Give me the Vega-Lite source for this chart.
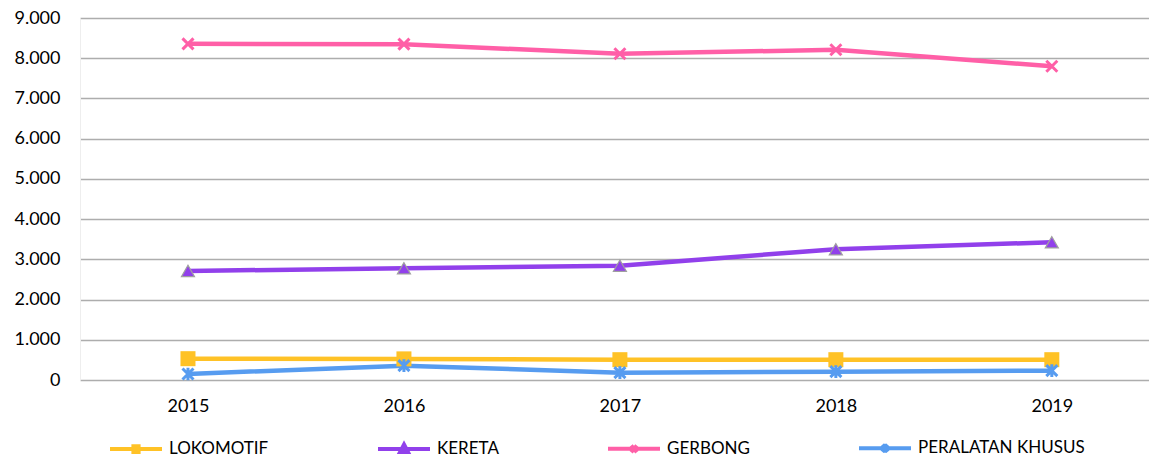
{
  "$schema": "https://vega.github.io/schema/vega-lite/v6.json",
  "width": 1069,
  "height": 362,
  "autosize": {"type": "none"},
  "padding": {"left": 80, "top": 18, "right": 0, "bottom": 77},
  "background": "white",
  "config": {"view": {"stroke": null}, "font": "Lato"},
  "data": {
    "values": [
      {"year": 2015, "series": "LOKOMOTIF", "value": 530},
      {"year": 2016, "series": "LOKOMOTIF", "value": 525},
      {"year": 2017, "series": "LOKOMOTIF", "value": 505},
      {"year": 2018, "series": "LOKOMOTIF", "value": 505},
      {"year": 2019, "series": "LOKOMOTIF", "value": 505},
      {"year": 2015, "series": "KERETA", "value": 2711},
      {"year": 2016, "series": "KERETA", "value": 2778},
      {"year": 2017, "series": "KERETA", "value": 2843},
      {"year": 2018, "series": "KERETA", "value": 3251},
      {"year": 2019, "series": "KERETA", "value": 3425},
      {"year": 2015, "series": "GERBONG", "value": 8358},
      {"year": 2016, "series": "GERBONG", "value": 8350},
      {"year": 2017, "series": "GERBONG", "value": 8110},
      {"year": 2018, "series": "GERBONG", "value": 8210},
      {"year": 2019, "series": "GERBONG", "value": 7800},
      {"year": 2015, "series": "PERALATAN KHUSUS", "value": 150},
      {"year": 2016, "series": "PERALATAN KHUSUS", "value": 357},
      {"year": 2017, "series": "PERALATAN KHUSUS", "value": 183},
      {"year": 2018, "series": "PERALATAN KHUSUS", "value": 208},
      {"year": 2019, "series": "PERALATAN KHUSUS", "value": 233}
    ]
  },
  "encoding": {
    "x": {
      "field": "year",
      "type": "quantitative",
      "scale": {"domain": [2014.5, 2019.45], "nice": false, "zero": false},
      "axis": {
        "values": [2015, 2016, 2017, 2018, 2019],
        "format": "d",
        "grid": false,
        "ticks": false,
        "domain": false,
        "labelFontSize": 18,
        "labelColor": "#000000",
        "labelPadding": 17,
        "title": null
      }
    },
    "y": {
      "field": "value",
      "type": "quantitative",
      "scale": {"domain": [0, 9000], "nice": false},
      "axis": {
        "values": [0, 1000, 2000, 3000, 4000, 5000, 6000, 7000, 8000, 9000],
        "labelExpr": "replace(format(datum.value, ','), ',', '.')",
        "grid": true,
        "gridColor": "#ADADAD",
        "gridWidth": 1.3,
        "ticks": false,
        "domain": true,
        "domainColor": "#EEEEEE",
        "labelFontSize": 18,
        "labelColor": "#000000",
        "labelPadding": 20,
        "title": null
      }
    }
  },
  "layer": [
    {
      "mark": {"type": "line", "strokeWidth": 4.5, "clip": false},
      "encoding": {
        "color": {
          "field": "series",
          "type": "nominal",
          "sort": null,
          "scale": {
            "domain": ["LOKOMOTIF", "KERETA", "GERBONG", "PERALATAN KHUSUS"],
            "range": ["#FFC226", "#9140EB", "#FF5FA7", "#579CF0"]
          },
          "legend": {
            "orient": "none",
            "legendX": 28,
            "legendY": 402,
            "direction": "horizontal",
            "title": null,
            "labelFontSize": 17,
            "labelColor": "#000000",
            "labelOffset": 5,
            "labelLimit": 400,
            "columnPadding": 101,
            "symbolSize": 2704,
            "symbolStrokeWidth": 4,
            "symbolType": "M-1,0H1",
            "encode": {
              "symbols": {
                "update": {
                  "shape": {"signal": "datum.value === 'LOKOMOTIF' ? 'M-1,0H1M-0.1,-0.11H0.1V0.11H-0.1Z' : datum.value === 'KERETA' ? 'M-1,0H1M0,-0.17L0.15,0.12H-0.15Z' : datum.value === 'GERBONG' ? 'M-1,0H1M-0.11,-0.13L0.11,0.13M-0.11,0.13L0.11,-0.13' : 'M-1,0H1M-0.11,-0.13L0.11,0.13M-0.11,0.13L0.11,-0.13M0,-0.17V0.17'"},
                  "fill": {"scale": "color", "field": "value"},
                  "stroke": {"scale": "color", "field": "value"},
                  "strokeWidth": {"value": 4},
                  "opacity": {"value": 1}
                }
              }
            }
          }
        }
      }
    },
    {
      "transform": [{"filter": "datum.series === 'LOKOMOTIF'"}],
      "mark": {"type": "point", "shape": "square", "filled": true, "size": 225, "fill": "#FFC226", "opacity": 1, "clip": false}
    },
    {
      "transform": [{"filter": "datum.series === 'KERETA'"}],
      "mark": {"type": "point", "shape": "triangle-up", "filled": true, "size": 170, "fill": "#9140EB", "stroke": "#A0A0A0", "strokeWidth": 1.2, "opacity": 1, "clip": false}
    },
    {
      "transform": [{"filter": "datum.series === 'GERBONG'"}],
      "mark": {"type": "point", "shape": "M-1,-1L1,1M-1,1L1,-1", "filled": false, "size": 121, "stroke": "#FF5FA7", "strokeWidth": 3, "opacity": 1, "clip": false}
    },
    {
      "transform": [{"filter": "datum.series === 'PERALATAN KHUSUS'"}],
      "mark": {"type": "point", "shape": "M-1,-1L1,1M-1,1L1,-1M0,-1.15V1.15", "filled": false, "size": 121, "stroke": "#579CF0", "strokeWidth": 3, "opacity": 1, "clip": false}
    }
  ]
}
